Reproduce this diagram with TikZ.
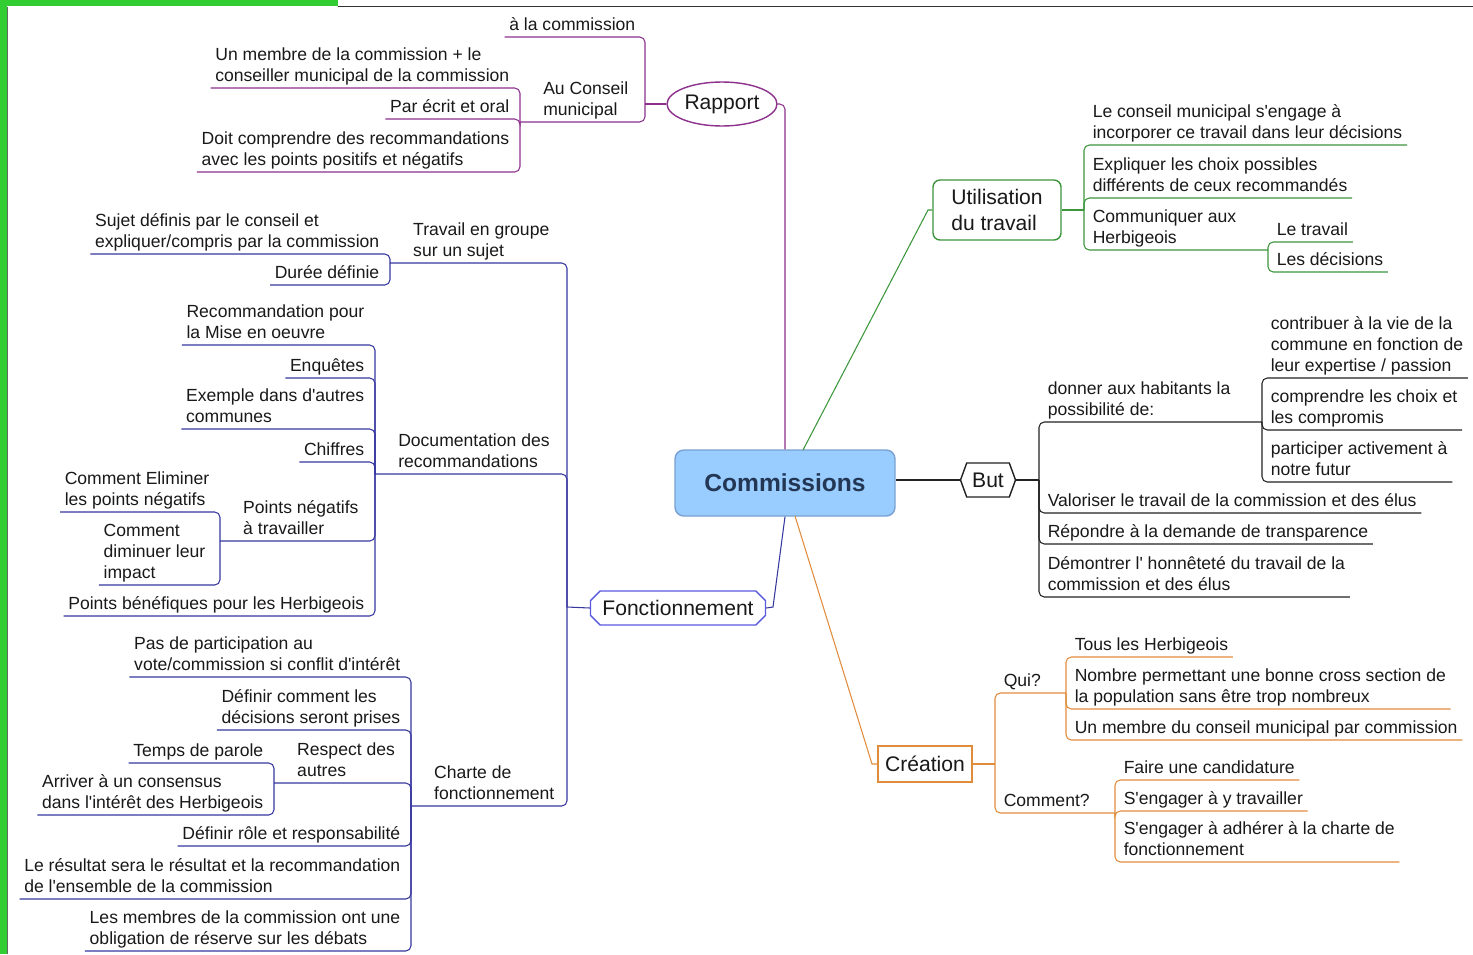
\documentclass[tikz,border=0pt]{standalone}
\usepackage{fontspec}
\setmainfont{Liberation Sans}[Ligatures=TeXOff]
\usetikzlibrary{shapes.geometric}
\usetikzlibrary{shapes.symbols}
\usetikzlibrary{shapes.misc}

\definecolor{rapc}{RGB}{140,50,140}
\definecolor{fonc}{RGB}{55,55,160}
\definecolor{fonbd}{RGB}{90,90,225}
\definecolor{utic}{RGB}{60,150,60}
\definecolor{crec}{RGB}{225,140,60}
\definecolor{butc}{RGB}{35,35,35}
\definecolor{comfill}{RGB}{153,204,255}
\definecolor{comdraw}{RGB}{120,160,210}
\definecolor{comtext}{RGB}{35,55,85}
\definecolor{txtc}{RGB}{25,25,25}
\definecolor{framec}{RGB}{50,205,50}

\begin{document}
\begin{tikzpicture}[x=0.02cm, y=-0.02cm,
    lf/.style={font=\fontsize{10}{12}\selectfont, text=txtc, align=left,
      inner xsep=2.5pt, inner ysep=0pt, execute at end node=\strut},
    br/.style={rounded corners=3pt, line width=0.6pt},
    rap/.style={br, draw=rapc},
    fon/.style={br, draw=fonc},
    uti/.style={br, draw=utic},
    cre/.style={br, draw=crec},
    but/.style={br, draw=butc},
    main/.style={font=\fontsize{12}{14.5}\selectfont, text=txtc, inner sep=0pt, line width=0.8pt}]

  \useasboundingbox (0,0) rectangle (1473,954);
  \fill[white] (0,0) rectangle (1473,954);

  % frame
  \fill[framec] (0,0) rectangle (7,954);
  \fill[framec] (0,0) rectangle (338,6);
  \draw[line width=0.8pt, black!80] (338,6.5) -- (1473,6.5);
  \draw[line width=0.4pt, black!60] (7.5,6.5) -- (7.5,954);

  % centre and main branches
  \node[font=\bfseries\fontsize{14}{16}\selectfont, text=comtext, fill=comfill, draw=comdraw,
    line width=0.8pt, rounded corners=5pt, minimum width=4.4cm, minimum height=1.32cm]
    (com) at (785,483) {Commissions};
  \node[main, ellipse, draw=rapc, minimum width=2.2cm, minimum height=0.88cm] (rap) at (722,104) {Rapport};
  \node[main, draw=utic, rounded corners=4pt, align=left, minimum width=2.56cm, minimum height=1.2cm]
    (uti) at (997,210) {Utilisation\\du travail};
  \node[main, signal, signal to=east and west, signal pointer angle=140, draw=butc,
    minimum width=1.1cm, minimum height=0.68cm] (but) at (988,480) {But};
  \node[main, chamfered rectangle, chamfered rectangle xsep=2pt, draw=fonbd,
    minimum width=3.5cm, minimum height=0.68cm] (fon) at (678,608) {Fonctionnement};
  \node[main, draw=crec, minimum width=1.88cm, minimum height=0.72cm] (cre) at (925,764) {Création};

  \coordinate (com-u) at (803,450);
  \coordinate (uti-k) at (928,210);
  \coordinate (fon-k) at (773,607);
  \coordinate (com-c) at (795,516);
  \coordinate (cre-k) at (872,764);
  \draw[rap] (rap.east) -| (com.north);
  \draw[uti, rounded corners=0pt] (com-u) -- (uti-k) -- (uti.west);
  \draw[but] (but.west -| com.east) -- (but.west);
  \draw[fon, rounded corners=0pt] (com.south) -- (fon-k) -- (fon.east);
  \draw[cre, rounded corners=0pt] (com-c) -- (cre-k) -- (cre.west);

  % Rapport
  \coordinate (rapb) at (645,104);
  \coordinate (acmb) at (520,122);
  \draw[rap] (rap.west) -- (rapb);
  \node[lf, anchor=south east] (alc) at (640,37) {à la commission};
  \node[lf, anchor=south west] (acm) at (538.5,122) {Au Conseil\\municipal};
  \draw[rap] (rapb) |- (alc.south west);
  \draw[rap] (rapb) |- (acmb);
  \foreach \nm/\yy/\txt in {mem/88/{Un membre de la commission + le\\conseiller municipal de la commission},
      ecr/119/{Par écrit et oral},
      doi/172/{Doit comprendre des recommandations\\avec les points positifs et négatifs}}{
    \node[lf, anchor=south east] (\nm) at (514,\yy) {\txt};
    \draw[rap] (acmb) |- (\nm.south west);
  }

  % Fonctionnement
  \coordinate (fonb) at (567,607);
  \draw[fon] (fon.west) -- (fonb);

  \coordinate (trgb) at (390,263);
  \node[lf, anchor=south west] (trg) at (408.5,263) {Travail en groupe\\sur un sujet};
  \draw[fon] (fonb) |- (trgb);
  \node[lf, anchor=south east] (suj) at (384,254) {Sujet définis par le conseil et\\expliquer/compris par la commission};
  \node[lf, anchor=south east] (dur) at (384,285) {Durée définie};
  \draw[fon] (trgb) |- (suj.south west);
  \draw[fon] (trgb) |- (dur.south west);

  \coordinate (docb) at (375,474);
  \node[lf, anchor=south west] (doc) at (393.5,474) {Documentation des\\recommandations};
  \draw[fon] (fonb) |- (docb);
  \foreach \nm/\yy/\txt in {rec/345/{Recommandation pour\\la Mise en oeuvre},
      enq/378/{Enquêtes}, exe/429/{Exemple dans d'autres\\communes}, chi/462/{Chiffres},
      ben/616/{Points bénéfiques pour les Herbigeois}}{
    \node[lf, anchor=south east] (\nm) at (369,\yy) {\txt};
    \draw[fon] (docb) |- (\nm.south west);
  }
  \coordinate (pneb) at (220,541);
  \node[lf, anchor=south west] (pne) at (238.5,541) {Points négatifs\\à travailler};
  \draw[fon] (docb) |- (pneb);
  \node[lf, anchor=south east] (eli) at (214,512) {Comment Eliminer\\les points négatifs};
  \node[lf, anchor=south east] (dim) at (210,585) {Comment\\diminuer leur\\impact};
  \draw[fon] (pneb) |- (eli.south west);
  \draw[fon] (pneb) |- (dim.south west);

  \coordinate (chab) at (411,806);
  \node[lf, anchor=south west] (cha) at (429.5,806) {Charte de\\fonctionnement};
  \draw[fon] (fonb) |- (chab);
  \node[lf, anchor=south east] (par) at (405,677) {Pas de participation au\\vote/commission si conflit d'intérêt};
  \draw[fon] (chab) |- (par.south west);
  \foreach \nm/\yy/\txt in {dcl/730/{Définir comment les\\décisions seront prises},
      rol/846/{Définir rôle et responsabilité},
      rsl/899/{Le résultat sera le résultat et la recommandation\\de l'ensemble de la commission},
      obl/951/{Les membres de la commission ont une\\obligation de réserve sur les débats}}{
    \node[lf, anchor=south east] (\nm) at (405,\yy) {\txt};
    \draw[fon] (chab) |- (\nm.south west);
  }
  \coordinate (resb) at (274,783);
  \node[lf, anchor=south west] (res) at (292.5,783) {Respect des\\autres};
  \draw[fon] (chab) |- (resb);
  \node[lf, anchor=south east] (tem) at (268,763) {Temps de parole};
  \node[lf, anchor=south east] (arr) at (268,815) {Arriver à un consensus\\dans l'intérêt des Herbigeois};
  \draw[fon] (resb) |- (tem.south west);
  \draw[fon] (resb) |- (arr.south west);

  % Utilisation du travail
  \coordinate (utib) at (1084,210);
  \draw[uti] (uti.east) -- (utib);
  \foreach \nm/\yy/\txt in {eng/145/{Le conseil municipal s'engage à\\incorporer ce travail dans leur décisions},
      exq/198/{Expliquer les choix possibles\\différents de ceux recommandés}}{
    \node[lf, anchor=south west] (\nm) at (1088,\yy) {\txt};
    \draw[uti] (utib) |- (\nm.south east);
  }
  \coordinate (cmub) at (1268,250);
  \node[lf, anchor=south west] (cmu) at (1088,250) {Communiquer aux\\Herbigeois};
  \draw[uti] (utib) |- (cmub);
  \node[lf, anchor=south west] (tra) at (1272,242) {Le travail};
  \node[lf, anchor=south west] (dec) at (1272,272) {Les décisions};
  \draw[uti] (cmub) |- (tra.south east);
  \draw[uti] (cmub) |- (dec.south east);

  % But
  \coordinate (butb) at (1039,480);
  \draw[but] (but.east) -- (butb);
  \coordinate (donb) at (1262,422);
  \node[lf, anchor=south west] (don) at (1043,422) {donner aux habitants la\\possibilité de:};
  \draw[but] (butb) |- (donb);
  \node[lf, anchor=south west] (ctr) at (1266,378) {contribuer à la vie de la\\commune en fonction de\\leur expertise / passion};
  \draw[but] (donb) |- (ctr.south east);
  \foreach \nm/\yy/\txt in {cpr/430/{comprendre les choix et\\les compromis},
      pfu/482/{participer activement à\\notre futur}}{
    \node[lf, anchor=south west] (\nm) at (1266,\yy) {\txt};
    \draw[but] (donb) |- (\nm.south east);
  }
  \foreach \nm/\yy/\txt in {val/513/{Valoriser le travail de la commission et des élus},
      rep/544/{Répondre à la demande de transparence},
      dem/597/{Démontrer l' honnêteté du travail de la\\commission et des élus}}{
    \node[lf, anchor=south west] (\nm) at (1043,\yy) {\txt};
    \draw[but] (butb) |- (\nm.south east);
  }

  % Creation
  \coordinate (creb) at (995,764);
  \draw[cre] (cre.east) -- (creb);
  \coordinate (quib) at (1066,693);
  \node[lf, anchor=south west] (qui) at (999,693) {Qui?};
  \draw[cre] (creb) |- (quib);
  \foreach \nm/\yy/\txt in {tou/657/{Tous les Herbigeois},
      nom/709/{Nombre permettant une bonne cross section de\\la population sans être trop nombreux},
      unm/740/{Un membre du conseil municipal par commission}}{
    \node[lf, anchor=south west] (\nm) at (1070,\yy) {\txt};
    \draw[cre] (quib) |- (\nm.south east);
  }
  \coordinate (cmtb) at (1115,813);
  \node[lf, anchor=south west] (cmt) at (999,813) {Comment?};
  \draw[cre] (creb) |- (cmtb);
  \foreach \nm/\yy/\txt in {fai/780/{Faire une candidature},
      sen/811/{S'engager à y travailler},
      adh/862/{S'engager à adhérer à la charte de\\fonctionnement}}{
    \node[lf, anchor=south west] (\nm) at (1119,\yy) {\txt};
    \draw[cre] (cmtb) |- (\nm.south east);
  }
\end{tikzpicture}
\end{document}
